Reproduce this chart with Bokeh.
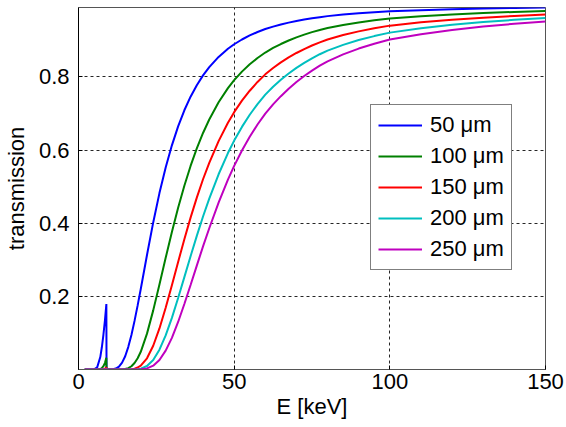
from bokeh.plotting import figure
from bokeh.models import Legend, LegendItem, FixedTicker, Range1d
from bokeh.embed import file_html
from bokeh.resources import INLINE

# photon energy [keV]
energy = [2, 3, 4, 5, 6, 7, 7.5, 8, 8.5, 8.95,
          9.0, 10, 11, 12, 13, 14, 15, 16, 17, 18,
          19, 20, 22, 24, 26, 28, 30, 32, 34, 36,
          38, 40, 42, 45, 48,
          50, 52.5, 55, 57.5, 60, 62.5, 65, 67.5, 70, 72.5, 75, 77.5, 80, 85, 90,
          95, 100, 110, 120, 130, 140, 150]

t_50 = [0, 0, 0, 0.0002, 0.0058, 0.034, 0.0608, 0.095, 0.1353, 0.1791,
        0, 0.0001, 0.0005, 0.0025, 0.0079, 0.0187, 0.0363, 0.0619, 0.0946, 0.1329,
        0.1753, 0.2201, 0.3132, 0.4022, 0.4824, 0.5526, 0.6131, 0.665, 0.7089, 0.7461,
        0.7776, 0.8043, 0.8268, 0.8548, 0.8771,
        0.8895, 0.9025, 0.9136, 0.923, 0.9311, 0.9377, 0.9435, 0.9486, 0.953, 0.957,
        0.9605, 0.9636, 0.9664, 0.9707, 0.9742, 0.9772, 0.9797, 0.9828, 0.9853, 0.9872,
        0.9888, 0.9901]

t_100 = [0, 0, 0, 0, 0, 0.0012, 0.0037, 0.009, 0.0183, 0.0321,
         0, 0, 0, 0, 0.0001, 0.0003, 0.0013, 0.0038, 0.0089, 0.0177,
         0.0307, 0.0484, 0.0981, 0.1617, 0.2327, 0.3054, 0.3759, 0.4422, 0.5026, 0.5567,
         0.6046, 0.6469, 0.6836, 0.7307, 0.7694,
         0.7912, 0.8146, 0.8346, 0.852, 0.8669, 0.8793, 0.8901, 0.8998, 0.9083, 0.9158,
         0.9226, 0.9285, 0.9339, 0.9422, 0.9491, 0.9549, 0.9598, 0.966, 0.9708, 0.9747,
         0.9778, 0.9804]

t_150 = [0, 0, 0, 0, 0, 0, 0.0002, 0.0009, 0.0025, 0.0057,
         0, 0, 0, 0, 0, 0, 0, 0.0002, 0.0008, 0.0023,
         0.0054, 0.0107, 0.0307, 0.065, 0.1123, 0.1688, 0.2305, 0.2941, 0.3563, 0.4153,
         0.4701, 0.5203, 0.5652, 0.6246, 0.6749,
         0.7038, 0.7352, 0.7624, 0.7864, 0.8072, 0.8246, 0.8398, 0.8535, 0.8656, 0.8764,
         0.8861, 0.8947, 0.9025, 0.9146, 0.9247, 0.9331, 0.9404, 0.9494, 0.9566, 0.9623,
         0.967, 0.9707]

t_200 = [0, 0, 0, 0, 0, 0, 0, 0.0001, 0.0003, 0.001,
         0, 0, 0, 0, 0, 0, 0, 0, 0.0001, 0.0003,
         0.0009, 0.0023, 0.0096, 0.0261, 0.0542, 0.0933, 0.1413, 0.1955, 0.2526, 0.3099,
         0.3655, 0.4185, 0.4673, 0.5339, 0.5919,
         0.626, 0.6635, 0.6966, 0.7259, 0.7516, 0.7732, 0.7923, 0.8096, 0.825, 0.8387,
         0.8511, 0.8622, 0.8721, 0.8878, 0.9009, 0.9118, 0.9213, 0.9331, 0.9425, 0.9501,
         0.9562, 0.9612]

t_250 = [0, 0, 0, 0, 0, 0, 0, 0, 0, 0.0002,
         0, 0, 0, 0, 0, 0, 0, 0, 0, 0,
         0.0002, 0.0005, 0.003, 0.0105, 0.0261, 0.0516, 0.0866, 0.13, 0.1791, 0.2312,
         0.2842, 0.3366, 0.3863, 0.4563, 0.5192,
         0.5568, 0.5989, 0.6364, 0.67, 0.6998, 0.7251, 0.7475, 0.768, 0.7862, 0.8026,
         0.8175, 0.8308, 0.8428, 0.8617, 0.8777, 0.891, 0.9026, 0.9171, 0.9287, 0.938,
         0.9455, 0.9517]

labels = ["50 \u03bcm", "100 \u03bcm", "150 \u03bcm", "200 \u03bcm", "250 \u03bcm"]
series = [t_50, t_100, t_150, t_200, t_250]
colors = ["#0000FF", "#008000", "#FF0000", "#00BFBF", "#BF00BF"]

x_ticks = [0, 50, 100, 150]
y_ticks = [0.2, 0.4, 0.6, 0.8]

FONT = "Liberation Sans"
FS = "22px"

p = figure(width=564, height=425, x_range=Range1d(0, 150), y_range=Range1d(0, 0.99),
           output_backend="svg", toolbar_location=None,
           min_border_left=75, min_border_right=19, min_border_top=7, min_border_bottom=56)

p.background_fill_color = "white"
p.border_fill_color = "white"
p.outline_line_color = "#555555"
p.outline_line_width = 1

items = []
for lab, ys, c in zip(labels, series, colors):
    r = p.line(energy, ys, line_color=c, line_width=2)
    items.append(LegendItem(label=lab, renderers=[r]))

p.xaxis.ticker = FixedTicker(ticks=x_ticks)
p.yaxis.ticker = FixedTicker(ticks=y_ticks)
p.xaxis.axis_label = "E [keV]"
p.yaxis.axis_label = "transmission"

for ax in (p.xaxis, p.yaxis):
    ax.axis_label_text_font = FONT
    ax.axis_label_text_font_size = FS
    ax.axis_label_text_font_style = "normal"
    ax.axis_label_text_color = "black"
    ax.major_label_text_font = FONT
    ax.major_label_text_font_size = FS
    ax.major_label_text_color = "black"
    ax.major_tick_in = 4
    ax.major_tick_out = 0
    ax.minor_tick_in = 0
    ax.minor_tick_out = 0
    ax.major_tick_line_color = "black"
p.xaxis.axis_line_color = "#555555"
p.yaxis.axis_line_color = "black"
p.xaxis.major_label_standoff = 4
p.yaxis.major_label_standoff = 9
p.xaxis.axis_label_standoff = 2
p.yaxis.axis_label_standoff = 7

for g in (p.xgrid, p.ygrid):
    g.grid_line_color = "black"
    g.grid_line_dash = "3 3"
    g.grid_line_width = 1
    g.grid_line_alpha = 0.85

legend = Legend(items=items, location=(292, 99))
legend.label_text_font = FONT
legend.label_text_font_size = FS
legend.label_text_color = "black"
legend.border_line_color = "black"
legend.border_line_width = 1
legend.background_fill_color = "white"
legend.background_fill_alpha = 1
legend.glyph_width = 44
legend.glyph_height = 26
legend.label_height = 26
legend.label_standoff = 8
legend.spacing = 5
legend.padding = 7
legend.margin = 0
p.add_layout(legend)

open("out.html", "w").write(file_html(p, INLINE))
